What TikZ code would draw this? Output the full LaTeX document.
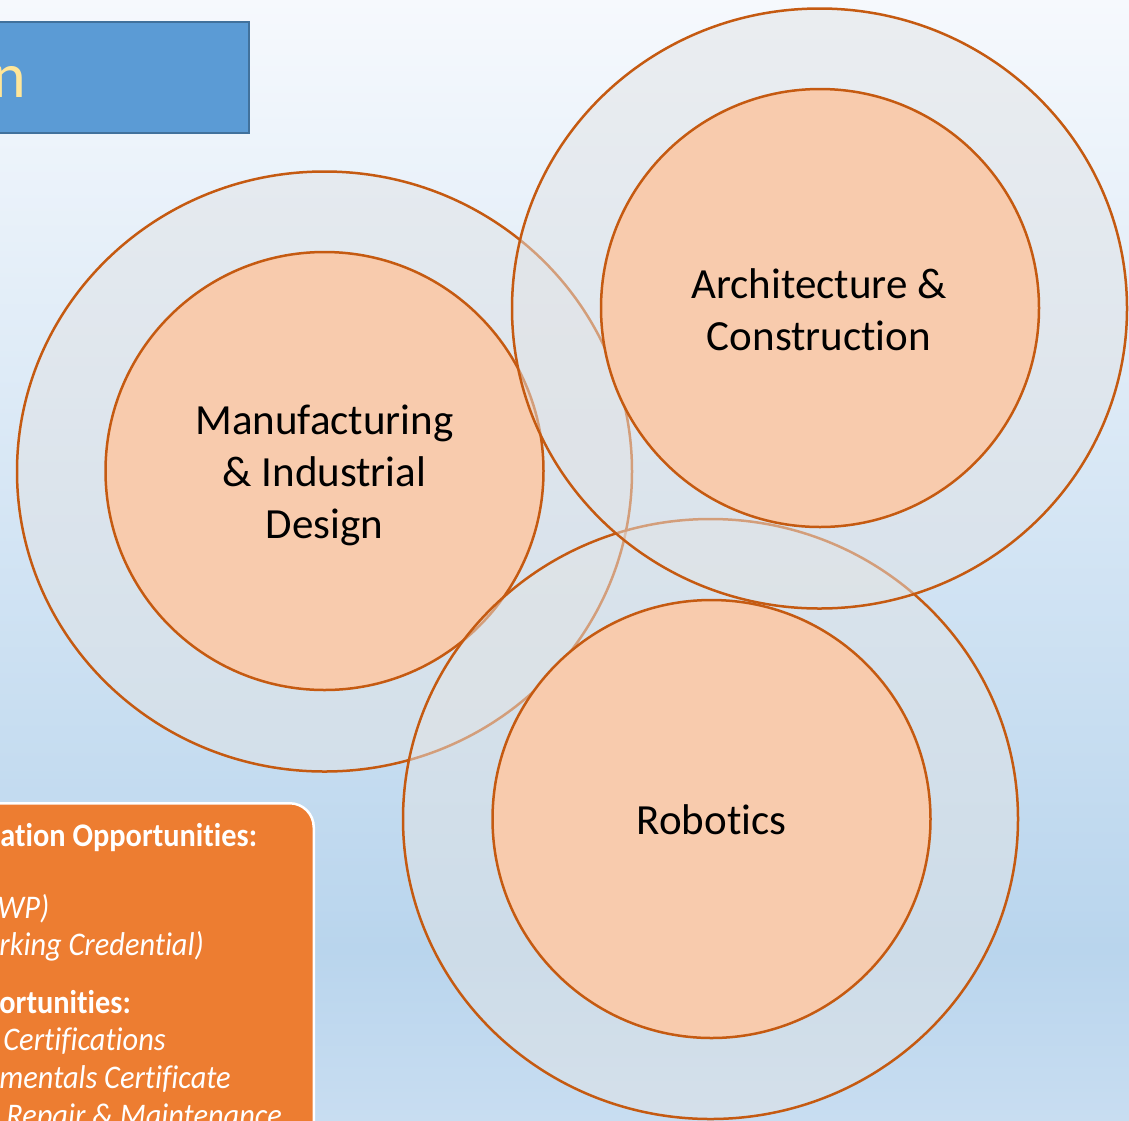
\documentclass[tikz,border=0pt]{standalone}
\usepackage{fontspec}
\setmainfont[Ligatures=NoCommon]{Carlito}
\newfontfamily\boxfont[FakeStretch=0.92,Ligatures=NoCommon]{Carlito}
\usetikzlibrary{shapes.geometric}
\definecolor{bgtop}{HTML}{F6F9FD}
\definecolor{bgmid}{HTML}{B9D5ED}
\definecolor{bgbot}{HTML}{C8DDF1}
\definecolor{ringfill}{HTML}{E1E3E5}
\definecolor{ringline}{HTML}{C55A11}
\definecolor{corefill}{HTML}{F8CBAD}
\definecolor{titlefill}{HTML}{5B9BD5}
\definecolor{titleline}{HTML}{41719C}
\definecolor{titletext}{HTML}{FFE699}
\definecolor{boxfill}{HTML}{ED7D31}
\tikzset{
  outring/.style={ellipse, draw=ringline, line width=1.25pt, fill=ringfill, fill opacity=0.5, draw opacity=1,
    minimum width=307.5pt, minimum height=300pt, inner sep=0pt},
  core/.style={circle, draw=ringline, line width=1.25pt, fill=corefill, minimum size=219pt, inner sep=0pt},
  ctext/.style={align=center, text=black, font=\fontsize{21.5}{26}\selectfont, inner sep=0pt},
  titlebox/.style={draw=titleline, line width=1pt, fill=titlefill, minimum width=140pt, minimum height=55.5pt, inner sep=0pt},
  boxline/.style={text=white, anchor=base west, inner sep=0pt},
  boxbold/.style={boxline, font=\boxfont\bfseries\fontsize{16.5}{19}\selectfont},
  boxital/.style={boxline, font=\boxfont\itshape\fontsize{16.5}{19}\selectfont}
}
\begin{document}
\begin{tikzpicture}[x=0.5pt,y=-0.5pt]
\clip (0,0) rectangle (1129,1120);
\shade[top color=bgtop, bottom color=bgmid] (0,0) rectangle (1129,950);
\shade[top color=bgmid, bottom color=bgbot] (0,949) rectangle (1129,1120);

% title box
\node[titlebox, anchor=north east] (title) at (250,21) {};
\node[text=titletext, anchor=base east, inner sep=0pt, font=\fontsize{32}{38}\selectfont] (titletxt) at (27,97) {n};

% orange info box
\node[draw=white, line width=1.25pt, fill=boxfill, rounded corners=12pt, anchor=north east,
      minimum width=180pt, minimum height=180pt] (info) at (315,802) {};
\node[boxbold] (l1) at (0,846) {ation Opportunities:};
\node[boxital] (l2) at (-3,918) {WP)};
\node[boxital] (l3) at (-1,955) {rking Credential)};
\node[boxbold] (l4) at (-1,1013) {ortunities:};
\node[boxital] (l5) at (3,1050) {Certifications};
\node[boxital] (l6) at (-1,1088) {mentals Certificate};
\node[boxital] (l7) at (6,1126) {Repair \& Maintenance};

% Manufacturing
\node[outring] (mo) at (324.5,471.5) {};
\node[core] (mi) at (324.5,471) {};
\node[ctext] (mt) at (324.5,475) {Manufacturing\\\& Industrial\\Design};

% Robotics
\node[outring] (ro) at (710.5,819) {};
\node[core] (ri) at (711.5,819) {};
\node[ctext] (rt) at (711.5,820) {Robotics};

% Architecture
\node[outring] (ao) at (819.5,308.5) {};
\node[core] (ai) at (820,308) {};
\node[ctext] (at) at (819,310) {Architecture \&\\Construction};
\end{tikzpicture}
\end{document}
